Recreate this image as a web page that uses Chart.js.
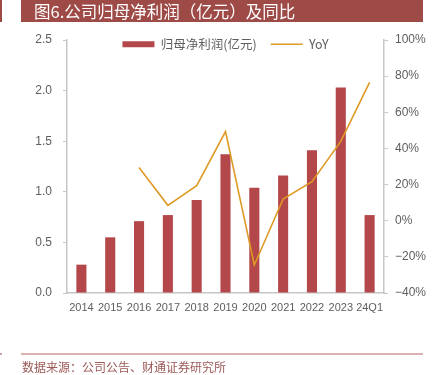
<!DOCTYPE html>
<html>
<head>
<meta charset="utf-8">
<script src="https://cdn.jsdelivr.net/npm/chart.js@4/dist/chart.umd.min.js"></script>
<style>
  html, body { margin: 0; padding: 0; background: #ffffff; }
  body { width: 436px; height: 375px; position: relative; overflow: hidden; }
  #c { position: absolute; left: 0; top: 0; }
  .title { position: absolute; left: 21px; top: 0; width: 402px; height: 22px; background: #9e4b48;
           color: #ffffff; font: 16.5px 'Noto Sans CJK SC', sans-serif; line-height: 22px; padding-left: 13px; box-sizing: border-box; white-space: nowrap; }
  .mark { position: absolute; left: 0; top: 0; width: 2px; height: 22px; background: #9e4b48; }
  .fline { position: absolute; left: 21px; top: 353px; width: 402px; height: 2px; background: #dcb1af; }
  .fmark { position: absolute; left: 0; top: 353px; width: 2px; height: 2px; background: #c9a3a1; }
  .source { position: absolute; left: 22px; top: 359px; font: 12px 'Noto Sans CJK SC', sans-serif; line-height: 16px; color: #9a5a57; white-space: nowrap; }
</style>
</head>
<body>
<canvas id="c" width="436" height="375"></canvas>
<div class="mark"></div>
<div class="title">图6.公司归母净利润（亿元）及同比</div>
<div class="fmark"></div>
<div class="fline"></div>
<div class="source">数据来源：公司公告、财通证券研究所</div>
<script>
const categories = ['2014', '2015', '2016', '2017', '2018', '2019', '2020', '2021', '2022', '2023', '24Q1'];
const netProfit = [0.28, 0.55, 0.71, 0.77, 0.92, 1.37, 1.04, 1.16, 1.41, 2.03, 0.77];
const yoy = [null, null, 29.4, 8.5, 19.4, 49.3, -24.5, 12.0, 21.6, 43.9, 76.6];
const seriesNames = ['归母净利润(亿元)', 'YoY'];
const leftTicks = [0, 0.5, 1.0, 1.5, 2.0, 2.5];
const rightTicks = [-40, -20, 0, 20, 40, 60, 80, 100];

Chart.defaults.font.family = "'Liberation Sans', 'Noto Sans CJK SC', sans-serif";
Chart.defaults.color = '#5e5e5e';

const axisColor = '#c6c6c6';

const legendHeightPlugin = {
  id: 'legendHeight',
  beforeInit(chart) {
    const lg = chart.legend;
    if (!lg) return;
    const origFit = lg.fit;
    lg.fit = function () {
      origFit.call(this);
      this.height = 16;
    };
    const origDraw = lg.draw;
    lg.draw = function () {
      const b = this.bottom, h = this.height;
      this.bottom = this.top + 40;
      this.height = 40;
      origDraw.call(this);
      this.bottom = b;
      this.height = h;
    };
  }
};

new Chart(document.getElementById('c'), {
  data: {
    labels: categories,
    datasets: [
      {
        type: 'bar',
        label: seriesNames[0],
        data: netProfit,
        backgroundColor: '#b3474a',
        borderWidth: 0,
        yAxisID: 'y',
        categoryPercentage: 1.0,
        barPercentage: 0.35,
        order: 1
      },
      {
        type: 'line',
        label: seriesNames[1],
        data: yoy,
        borderColor: '#de9a24',
        backgroundColor: '#de9a24',
        borderWidth: 1.6,
        pointRadius: 0,
        tension: 0,
        spanGaps: false,
        yAxisID: 'y1',
        order: 0
      }
    ]
  },
  options: {
    responsive: false,
    animation: false,
    devicePixelRatio: 1,
    layout: { padding: { top: 24, left: 0, right: 0, bottom: 0 } },
    plugins: {
      tooltip: { enabled: false },
      legend: {
        display: true,
        position: 'top',
        fullSize: false,
        align: 'center',
        labels: {
          usePointStyle: true,
          pointStyleWidth: 32,
          boxHeight: 6,
          padding: 14,
          color: '#5e5e5e',
          font: { size: 12.5, family: "'Noto Sans CJK SC', 'Liberation Sans', sans-serif" },
          sort: (a, b) => a.datasetIndex - b.datasetIndex,
          generateLabels(chart) {
            const items = Chart.defaults.plugins.legend.labels.generateLabels(chart);
            items.forEach(it => {
              const ds = chart.data.datasets[it.datasetIndex];
              if (ds.type === 'line') {
                it.pointStyle = 'line';
                it.strokeStyle = ds.borderColor;
                it.lineWidth = 1.6;
              } else {
                it.pointStyle = 'rect';
                it.lineWidth = 0;
              }
            });
            return items;
          }
        }
      }
    },
    scales: {
      x: {
        type: 'category',
        offset: true,
        grid: { display: false, drawTicks: false },
        border: { display: true, color: axisColor, width: 1.5 },
        ticks: { color: '#5e5e5e', font: { size: 11 }, padding: 8, maxRotation: 0, autoSkip: false },
        afterFit(scale) { scale.height = 82; }
      },
      y: {
        type: 'linear',
        position: 'left',
        min: 0,
        max: 2.5,
        afterBuildTicks(scale) { scale.ticks = leftTicks.map(v => ({ value: v })); },
        grid: { display: true, drawOnChartArea: false, drawTicks: true, tickLength: 4, color: axisColor },
        border: { display: true, color: axisColor, width: 1.5 },
        ticks: { color: '#5e5e5e', font: { size: 12 }, padding: 11, callback: v => Number(v).toFixed(1) },
        afterFit(scale) { scale.width = 67; }
      },
      y1: {
        type: 'linear',
        position: 'right',
        min: -40,
        max: 100,
        afterBuildTicks(scale) { scale.ticks = rightTicks.map(v => ({ value: v })); },
        grid: { display: true, drawOnChartArea: false, drawTicks: true, tickLength: 4, color: axisColor },
        border: { display: true, color: axisColor, width: 1.5 },
        ticks: { color: '#5e5e5e', font: { size: 12 }, padding: 7, callback: v => (v < 0 ? '\u2212' + Math.abs(v) : v) + '%' },
        afterFit(scale) { scale.width = 52; }
      }
    }
  },
  plugins: [legendHeightPlugin]
});
</script>
</body>
</html>
